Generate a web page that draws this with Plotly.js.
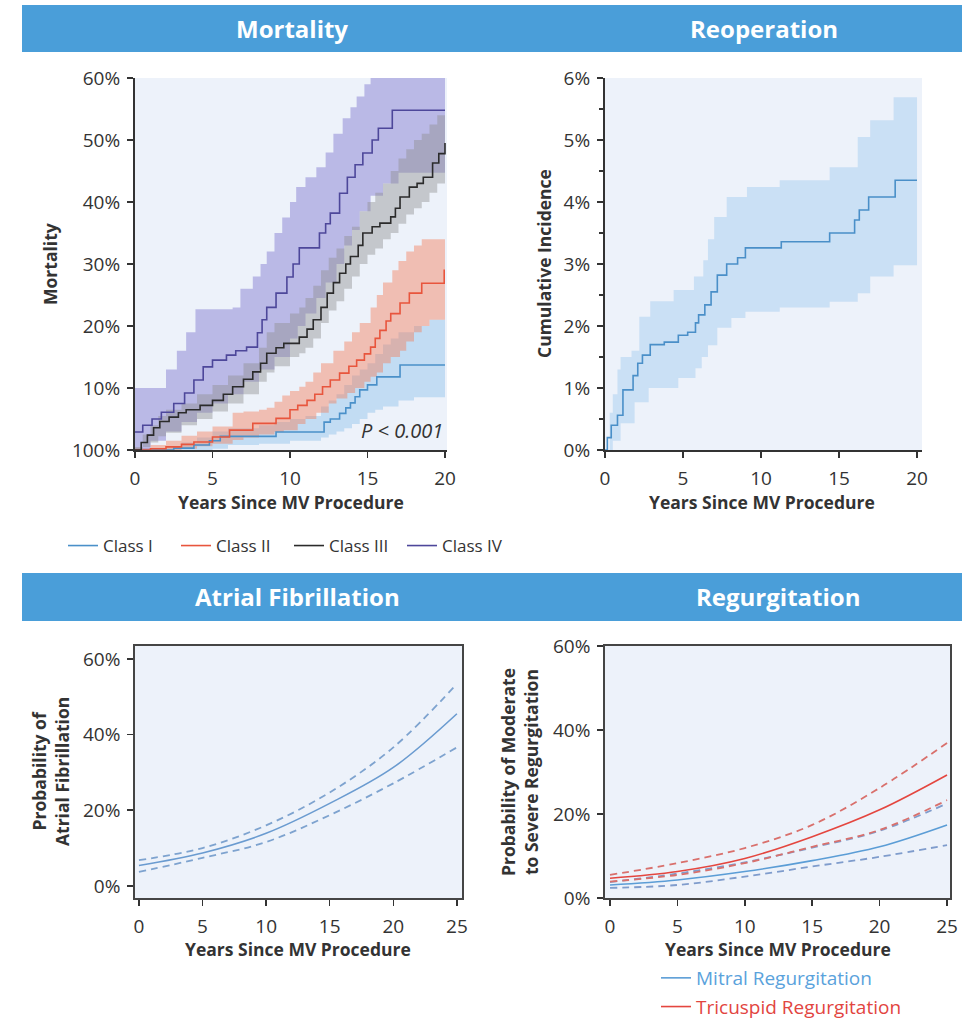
<!DOCTYPE html>
<html><head><meta charset="utf-8">
<script src="https://cdn.plot.ly/plotly-3.0.1.min.js"></script>
<style>html,body{margin:0;padding:0;background:#fff}#chart{width:974px;height:1026px}</style>
</head><body><div id="chart"></div>
<script>
// ---------- Mortality (Kaplan-Meier, %), by class ----------
const classNames = ['Class I', 'Class II', 'Class III', 'Class IV'];
const mortTickVals = [0, 10, 20, 30, 40, 50, 60];
const mortTickText = ['100%', '10%', '20%', '30%', '40%', '50%', '60%'];
const yearTicks20 = [0, 5, 10, 15, 20];

const c1X = [0, 2.5, 3.8, 4.8, 5.5, 9.1, 12.2, 12.6, 13.2, 13.6, 13.9, 14.2, 14.5, 15.0, 15.6, 17.1, 20];
const c1Y = [0, 0.3, 0.8, 1.5, 2.2, 2.9, 4.5, 5.0, 5.9, 6.8, 7.6, 8.6, 9.7, 10.5, 11.8, 13.7, 13.7];
const c1UpX = [0, 2, 3, 4, 5, 6, 8, 9, 10, 11, 12, 12.5, 13, 13.5, 14, 14.5, 15, 15.5, 16, 16.5, 17, 18, 19, 20];
const c1Up  = [0, 0.5, 1.2, 2, 3, 3.5, 4, 4.5, 5, 5.5, 7, 8, 9, 10.5, 12, 13, 14, 15.5, 17, 18, 19, 20, 21, 22];
const c1LoX = [0, 5, 6, 8, 10, 12, 12.5, 13, 13.5, 14, 14.5, 15, 15.5, 16, 17, 18, 20];
const c1Lo  = [0, 0.2, 0.8, 1, 1.5, 2, 2.5, 3, 3.5, 4.2, 5, 6, 6.5, 7, 8, 8.5, 8.5];

const c2X = [0, 1, 2, 3, 3.8, 5, 6.1, 7.6, 9.1, 10, 10.5, 11.1, 11.6, 12.1, 12.6, 13.2, 13.8, 14.3, 14.8, 15.2, 15.5, 15.8, 16.2, 16.5, 17.1, 17.7, 18.5, 19.95, 20];
const c2Y = [0, 0.2, 0.5, 0.9, 1.3, 2.1, 3.2, 4.3, 5.1, 6.5, 7.2, 8.0, 9.0, 10.2, 11.3, 12.4, 13.5, 14.5, 15.5, 16.6, 18.0, 19.3, 20.8, 22.0, 23.7, 25.3, 26.9, 29, 29];
const c2UpX = [0, 1, 2, 3, 4, 5, 6.3, 7, 8, 8.5, 9, 9.5, 10, 10.6, 11, 11.5, 12, 12.8, 13.5, 14, 14.5, 15.2, 15.6, 16, 16.6, 17, 17.5, 18, 18.5, 20];
const c2Up  = [0.3, 0.8, 1.5, 2.3, 3, 3.8, 6, 6.2, 6.5, 6.8, 7.8, 8.8, 9.5, 10.2, 11, 12.5, 14, 16, 17.5, 19, 20.5, 23, 25, 27, 29, 30.5, 32, 33, 34, 34];
const c2LoX = [0, 3, 4, 5, 6.3, 7, 8, 9, 9.6, 10.5, 11, 11.7, 12.5, 13, 13.7, 14.2, 14.8, 15.2, 15.6, 16, 16.5, 17.1, 17.5, 18, 18.5, 19, 20];
const c2Lo  = [0, 0.2, 0.6, 1, 1.6, 2, 2.5, 2.9, 3.2, 4.2, 5, 6, 7.5, 8.3, 9.2, 10, 11, 11.8, 12.5, 14, 15, 16, 17.5, 19, 20, 21, 21];

const c3X = [0, 0.4, 0.8, 1.2, 1.6, 2.2, 2.8, 3.3, 4.2, 5, 5.7, 6.3, 7, 7.6, 8.1, 8.5, 9.1, 9.6, 10.6, 11.1, 11.5, 12, 12.4, 12.8, 13.2, 13.6, 13.9, 14.4, 14.7, 15.3, 15.8, 16.5, 16.8, 17.1, 17.7, 18.2, 18.6, 19.2, 19.6, 20];
const c3Y = [0, 1.2, 2.4, 3.6, 4.6, 5.3, 6.0, 6.5, 7.2, 8.0, 9.0, 10.2, 11.4, 12.6, 14.0, 15.6, 16.5, 17.2, 18.2, 19.5, 21.0, 23.0, 25.3, 27.0, 28.5, 30.0, 31.2, 33.0, 35.0, 36.0, 36.6, 37.6, 39.0, 40.8, 42.4, 43.0, 44.0, 46.3, 47.8, 49.5];
const c3UpX = [0, 0.5, 1, 1.5, 2, 3, 4, 5, 6, 7, 8, 8.5, 9, 10, 10.6, 11, 11.5, 12, 12.5, 13, 13.5, 14, 14.5, 15, 15.5, 16, 16.5, 17, 17.5, 18, 18.5, 19, 19.5, 20];
const c3Up  = [0.5, 2.5, 4, 5.5, 6.5, 7.5, 9, 10.5, 12, 14, 16.5, 19, 20.5, 22, 23, 24.5, 26.5, 29, 31, 32.5, 34.5, 36, 38.5, 40, 41.5, 43, 45, 47, 48.5, 50, 51, 52.5, 54, 54];
const c3LoX = [0, 0.5, 1, 1.5, 2, 3, 4, 5, 6, 7, 8, 8.5, 9, 10, 10.6, 11, 11.5, 12, 12.5, 13, 13.5, 14, 14.5, 15, 15.5, 16, 16.5, 17, 17.5, 18, 18.5, 19, 19.5, 20];
const c3Lo  = [0, 0.5, 1.2, 2.2, 2.8, 4, 5, 6.2, 7.5, 9, 11, 12.5, 13.5, 15, 15.6, 16.5, 18, 20.5, 22.5, 24, 26, 28, 30, 31.5, 32.5, 34, 35, 36.5, 38, 39, 40, 41.5, 43, 44];

const c4X = [0, 0.5, 1.1, 1.7, 2.5, 3.2, 3.8, 4.4, 5, 5.9, 6.5, 7.2, 7.9, 8.2, 8.5, 9.1, 9.8, 10.2, 10.6, 11.9, 12.3, 12.6, 13.2, 13.7, 14.2, 14.7, 15.3, 15.7, 16.6, 20];
const c4Y = [2.9, 4.0, 5.0, 6.1, 7.5, 9.2, 11.3, 13.4, 14.5, 15.3, 16.0, 16.6, 18.9, 21.0, 23.0, 25.3, 27.9, 30.0, 32.6, 35.0, 36.5, 38.2, 41.4, 44.0, 46.0, 47.9, 50.0, 51.9, 54.8, 54.8];
const c4UpX = [0, 1.6, 2, 2.7, 3.3, 3.9, 6.3, 6.8, 7.6, 8.1, 8.5, 9, 9.5, 10, 10.4, 11, 11.7, 12.3, 12.8, 13.4, 13.9, 14.3, 14.8, 15.2, 20];
const c4Up  = [10, 10, 13, 16, 19, 22.7, 23, 26, 28, 30, 32, 35, 37.5, 40, 42.4, 44, 45.6, 48, 51, 53.5, 55.3, 57, 59, 61, 61];
const c4LoX = [0, 1, 2, 3, 4, 5, 6, 7, 8, 9, 10, 10.5, 11, 11.7, 12.3, 13, 13.5, 14, 14.5, 15.2, 16, 17, 20];
const c4Lo  = [0, 1.5, 3, 4.5, 6, 7.5, 9, 11, 13, 15, 18, 20, 22, 24.5, 27, 30, 33, 35.5, 38.5, 41, 43, 44.7, 44.7];

// ---------- Reoperation (cumulative incidence, %) ----------
const reopTickVals = [0, 1, 2, 3, 4, 5, 6];
const reopTickText = ['0%', '1%', '2%', '3%', '4%', '5%', '6%'];
const reopX = [0, 0.15, 0.4, 0.8, 1.15, 1.8, 2.1, 2.4, 2.9, 3.8, 4.7, 5.3, 5.8, 6.0, 6.4, 6.8, 7.2, 7.8, 8.5, 9.0, 11.3, 14.4, 16.0, 16.3, 16.9, 18.6, 20];
const reopY = [0, 0.2, 0.4, 0.56, 0.97, 1.2, 1.4, 1.53, 1.7, 1.74, 1.85, 1.9, 2.05, 2.18, 2.34, 2.55, 2.82, 3.0, 3.1, 3.26, 3.36, 3.5, 3.71, 3.87, 4.08, 4.35, 4.35];
const reopUpX = [0, 0.3, 0.5, 0.8, 1.0, 1.7, 2.2, 2.9, 4.4, 5.7, 6.3, 6.6, 7.0, 7.8, 9.1, 11.2, 14.4, 16.2, 17, 18.5, 20];
const reopUp  = [0, 0.6, 0.9, 1.3, 1.5, 1.6, 2.15, 2.4, 2.58, 2.8, 3.06, 3.4, 3.76, 4.08, 4.24, 4.35, 4.56, 5.05, 5.32, 5.69, 5.69];
const reopLoX = [0, 0.5, 1.0, 1.9, 2.8, 4.7, 5.8, 6.2, 6.6, 7.2, 8.1, 9.0, 11.2, 14.4, 16.2, 17, 18.5, 20];
const reopLo  = [0, 0.15, 0.43, 0.77, 1.0, 1.16, 1.32, 1.5, 1.69, 1.97, 2.13, 2.23, 2.3, 2.39, 2.53, 2.8, 2.98, 2.98];

// ---------- Atrial fibrillation (probability, %) ----------
const years25 = [0, 5, 10, 15, 20, 25];
const pctTicks60 = [0, 20, 40, 60];
const pctTickText60 = ['0%', '20%', '40%', '60%'];
const afMain  = [5.4, 8.7, 13.9, 21.8, 31.3, 45.5];
const afUpper = [6.8, 10.0, 16.0, 24.7, 36.6, 53.4];
const afLower = [3.7, 7.4, 11.6, 18.7, 27.1, 36.6];

// ---------- Regurgitation (probability, %) ----------
const mrMain  = [3.1, 4.3, 6.3, 8.9, 12.2, 17.4];
const mrUpper = [3.8, 5.8, 8.5, 12.0, 16.0, 22.5];
const mrLower = [2.4, 3.1, 5.1, 7.5, 9.8, 12.6];
const trMain  = [4.7, 6.3, 9.4, 14.6, 21.0, 29.3];
const trUpper = [5.5, 8.3, 11.9, 17.4, 26.2, 36.9];
const trLower = [3.9, 5.5, 8.3, 12.2, 16.2, 23.3];
const regNames = ['Mitral Regurgitation', 'Tricuspid Regurgitation'];

// ---------- styling ----------
const W = 974, H = 1026;
const px = p => p / W, py = p => 1 - p / H;
const FONT = '"Open Sans", "Noto Sans", sans-serif';
const INK = '#333333';
const classColors = ['#4a90c9', '#e8553d', '#2b2b2b', '#4d479a'];
const bandColors = ['rgba(120,180,230,0.36)', 'rgba(245,120,80,0.42)', 'rgba(140,140,140,0.42)', 'rgba(110,100,200,0.40)'];

const data = [];
function band(xLo, yLo, xUp, yUp, color, xa, ya) {
  data.push({x: xLo, y: yLo, type: 'scatter', mode: 'lines', line: {width: 0, shape: 'hv'}, showlegend: false, hoverinfo: 'skip', xaxis: xa, yaxis: ya});
  data.push({x: xUp, y: yUp, type: 'scatter', mode: 'lines', line: {width: 0, shape: 'hv'}, fill: 'tonexty', fillcolor: color, showlegend: false, hoverinfo: 'skip', xaxis: xa, yaxis: ya});
}
const bands = [[c1LoX, c1Lo, c1UpX, c1Up], [c2LoX, c2Lo, c2UpX, c2Up], [c4LoX, c4Lo, c4UpX, c4Up], [c3LoX, c3Lo, c3UpX, c3Up]];
const bandIdx = [0, 1, 3, 2];
bands.forEach((b, i) => band(b[0], b[1], b[2], b[3], bandColors[bandIdx[i]], 'x', 'y'));
[[c1X, c1Y], [c2X, c2Y], [c3X, c3Y], [c4X, c4Y]].forEach((s, i) => data.push({
  x: s[0], y: s[1], type: 'scatter', mode: 'lines', name: classNames[i],
  line: {color: classColors[i], width: 1.6, shape: 'hv'}, legend: 'legend', xaxis: 'x', yaxis: 'y'
}));

band(reopLoX, reopLo, reopUpX, reopUp, 'rgba(140,190,235,0.36)', 'x2', 'y2');
data.push({x: reopX, y: reopY, type: 'scatter', mode: 'lines', line: {color: '#4a8fc8', width: 1.6, shape: 'hv'}, showlegend: false, xaxis: 'x2', yaxis: 'y2'});

const afColor = '#6a9bd0';
[afUpper, afLower].forEach(s => data.push({x: years25, y: s, type: 'scatter', mode: 'lines', line: {color: '#7ea3cf', width: 1.8, dash: '7px,5px', shape: 'spline'}, showlegend: false, xaxis: 'x3', yaxis: 'y3'}));
data.push({x: years25, y: afMain, type: 'scatter', mode: 'lines', line: {color: afColor, width: 1.6, shape: 'spline'}, showlegend: false, xaxis: 'x3', yaxis: 'y3'});

const mrColor = '#5b9dd6', trColor = '#e4463f';
[mrUpper, mrLower].forEach(s => data.push({x: years25, y: s, type: 'scatter', mode: 'lines', line: {color: '#7f9ccc', width: 1.8, dash: '7px,5px', shape: 'spline'}, showlegend: false, xaxis: 'x4', yaxis: 'y4'}));
[trUpper, trLower].forEach(s => data.push({x: years25, y: s, type: 'scatter', mode: 'lines', line: {color: '#d9706c', width: 1.8, dash: '7px,5px', shape: 'spline'}, showlegend: false, xaxis: 'x4', yaxis: 'y4'}));
data.push({x: years25, y: mrMain, type: 'scatter', mode: 'lines', name: '<span style="color:#5aa2dc">' + regNames[0] + '</span>', legendgroup: 'm', line: {color: mrColor, width: 1.6, shape: 'spline'}, legend: 'legend2', xaxis: 'x4', yaxis: 'y4'});
data.push({x: years25, y: trMain, type: 'scatter', mode: 'lines', name: '<span style="color:#e2453f">' + regNames[1] + '</span>', legendgroup: 't', line: {color: trColor, width: 1.6, shape: 'spline'}, legend: 'legend2', xaxis: 'x4', yaxis: 'y4'});

const axBase = {
  ticks: 'outside', ticklen: 6, tickwidth: 1.5, tickcolor: INK, showline: true, linecolor: INK, linewidth: 2,
  showgrid: false, zeroline: false, tickfont: {family: FONT, size: 19, color: INK}, fixedrange: true, ticklabelstandoff: 3
};
const boxAx = Object.assign({}, axBase, {mirror: true, linecolor: '#454545', linewidth: 1.8});

const layout = {
  width: W, height: H, margin: {l: 0, r: 0, t: 0, b: 0},
  paper_bgcolor: '#ffffff', plot_bgcolor: '#edf2fa',
  font: {family: FONT, color: INK},
  xaxis: Object.assign({}, axBase, {domain: [px(135), px(447)], range: [0, 20.13], tickvals: yearTicks20, anchor: 'y', ticklabelstandoff: 4}),
  yaxis: Object.assign({}, axBase, {domain: [py(450), py(78)], range: [0, 60], tickvals: mortTickVals, ticktext: mortTickText, anchor: 'x'}),
  xaxis2: Object.assign({}, axBase, {domain: [px(605), px(922)], range: [0, 20.32], tickvals: yearTicks20, anchor: 'y2', ticklabelstandoff: 4}),
  yaxis2: Object.assign({}, axBase, {domain: [py(450), py(78)], range: [0, 6], tickvals: reopTickVals, ticktext: reopTickText, anchor: 'x2',
    minor: {dtick: 0.5, ticks: 'outside', ticklen: 4, tickwidth: 1.2, tickcolor: INK}}),
  xaxis3: Object.assign({}, boxAx, {domain: [px(135), px(462)], range: [-0.31, 25.4], tickvals: years25, anchor: 'y3', ticklabelstandoff: 4}),
  yaxis3: Object.assign({}, boxAx, {domain: [py(898), py(646)], range: [-3.2, 63.4], tickvals: pctTicks60, ticktext: pctTickText60, anchor: 'x3'}),
  xaxis4: Object.assign({}, boxAx, {domain: [px(605), px(950)], range: [-0.37, 25.22], tickvals: years25, anchor: 'y4', ticklabelstandoff: 4}),
  yaxis4: Object.assign({}, boxAx, {domain: [py(898), py(646)], range: [0, 60], tickvals: pctTicks60, ticktext: pctTickText60, anchor: 'x4'}),
  legend: {orientation: 'h', x: px(63), xanchor: 'left', y: py(528), yanchor: 'top', traceorder: 'normal', entrywidth: 68, entrywidthmode: 'pixels',
    font: {family: FONT, size: 17, color: INK}, bgcolor: 'rgba(0,0,0,0)', itemwidth: 30},
  legend2: {orientation: 'v', x: px(656), xanchor: 'left', y: 0, yanchor: 'bottom', font: {family: FONT, size: 19, color: INK}, bgcolor: 'rgba(0,0,0,0)', itemwidth: 30, traceorder: 'grouped', tracegroupgap: 1},
  shapes: [
    {type: 'rect', xref: 'paper', yref: 'paper', x0: px(22), x1: px(962), y0: py(52), y1: py(5), fillcolor: '#4a9ed9', line: {width: 0}, layer: 'below'},
    {type: 'rect', xref: 'paper', yref: 'paper', x0: px(22), x1: px(962), y0: py(621), y1: py(573), fillcolor: '#4a9ed9', line: {width: 0}, layer: 'below'}
  ],
  annotations: []
};
const A = layout.annotations;
function note(text, cx, cy, size, color, angle) {
  A.push({text: text, x: px(cx), y: py(cy), xref: 'paper', yref: 'paper', xanchor: 'center', yanchor: 'middle', showarrow: false, textangle: angle || 0, font: {family: FONT, size: size, color: color}});
}
note('<b>Mortality</b>', 292, 28, 24, '#ffffff'); note('<b>Reoperation</b>', 764, 28, 24, '#ffffff');
note('<b>Atrial Fibrillation</b>', 297, 596, 24, '#ffffff'); note('<b>Regurgitation</b>', 778, 596, 24, '#ffffff');
note('<b>Years Since MV Procedure</b>', 291, 502, 17.5, INK); note('<b>Years Since MV Procedure</b>', 762, 502, 17.5, INK);
note('<b>Years Since MV Procedure</b>', 298, 949, 17.5, INK); note('<b>Years Since MV Procedure</b>', 778, 949, 17.5, INK);
note('<b>Mortality</b>', 50, 264, 17.5, INK, -90); note('<b>Cumulative Incidence</b>', 544, 264, 17.5, INK, -90);
note('<b>Probability of<br>Atrial Fibrillation</b>', 50, 772, 17.5, INK, -90);
note('<b>Probability of Moderate<br>to Severe Regurgitation</b>', 519, 772, 17.5, INK, -90);
A.push({text: '<i>P</i> <i>&lt; 0.001</i>', x: 20, y: 3.2, xref: 'x', yref: 'y', xanchor: 'right', yanchor: 'middle', showarrow: false, font: {family: FONT, size: 20, color: INK}});

Plotly.newPlot('chart', data, layout, {staticPlot: true});
</script></body></html>
